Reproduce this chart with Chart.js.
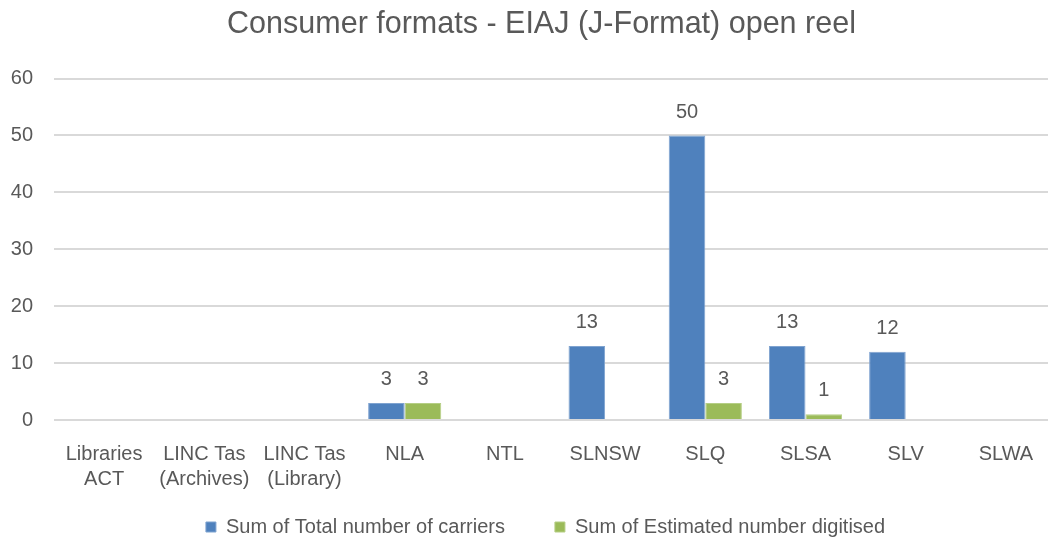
<!DOCTYPE html>
<html>
<head>
<meta charset="utf-8">
<script src="https://cdn.jsdelivr.net/npm/chart.js@4/dist/chart.umd.min.js"></script>
<style>
html,body{margin:0;padding:0;background:#fff;overflow:hidden;}
#wrap{width:1048px;height:541px;position:relative;overflow:hidden;}
canvas{display:block;}
</style>
</head>
<body>
<div id="wrap"><canvas id="c" width="1056" height="541"></canvas></div>
<script>
const categories = [
  ["Libraries","ACT"],
  ["LINC Tas","(Archives)"],
  ["LINC Tas","(Library)"],
  "NLA","NTL","SLNSW","SLQ","SLSA","SLV","SLWA"
];
const totalCarriers = [0,0,0,3,0,13,50,13,12,0];
const estDigitised  = [0,0,0,3,0,0,3,1,0,0];
const seriesNames = ["Sum of Total number of carriers","Sum of Estimated number digitised"];
const titleText = "Consumer formats - EIAJ (J-Format) open reel";

const FONT = "'Liberation Sans Narrow','Arial Narrow','Liberation Sans',Arial,sans-serif";
const TXT = "#595959";

const valueLabels = {
  id: 'valueLabels',
  afterDatasetsDraw(chart) {
    const ctx = chart.ctx;
    ctx.save();
    ctx.font = "20px " + FONT;
    ctx.fillStyle = TXT;
    ctx.textAlign = "center";
    ctx.textBaseline = "alphabetic";
    chart.data.datasets.forEach((ds, di) => {
      const meta = chart.getDatasetMeta(di);
      meta.data.forEach((bar, i) => {
        const v = ds.data[i];
        if (!v) return;
        ctx.fillText(String(v), bar.x, bar.y - 18);
      });
    });
    ctx.restore();
  }
};

const shiftBoxes = {
  id: 'shiftBoxes',
  afterLayout(chart) {
    const t = chart.titleBlock;
    if (t) { t.left += 8; t.right += 8; }
    const l = chart.legend;
    if (l) { l.left += 12; l.right += 12; l.top -= 23; l.bottom -= 23; }
  }
};

new Chart(document.getElementById('c'), {
  type: 'bar',
  data: {
    labels: categories,
    datasets: [
      { label: seriesNames[0], data: totalCarriers, backgroundColor: '#4F81BD', borderColor: '#7FA3D0', borderWidth: 1,
        categoryPercentage: 0.73, barPercentage: 1.0 },
      { label: seriesNames[1], data: estDigitised, backgroundColor: '#9BBB59', borderColor: '#B5CE85', borderWidth: 1,
        categoryPercentage: 0.73, barPercentage: 1.0 }
    ]
  },
  options: {
    responsive: false,
    animation: false,
    layout: { padding: { left: 11, right: 0, top: 4, bottom: -29 } },
    plugins: {
      title: { display: true, text: titleText, color: TXT,
        font: { family: FONT, size: 30.5, weight: 'normal' }, padding: { top: 2, bottom: 36 } },
      legend: { position: 'bottom',
        labels: { color: TXT, font: { family: FONT, size: 20 }, boxWidth: 10, boxHeight: 10, padding: 50 } },
      tooltip: { enabled: false }
    },
    scales: {
      x: {
        grid: { display: false },
        border: { display: false },
        ticks: { color: TXT, font: { family: FONT, size: 20, lineHeight: 1.25 }, maxRotation: 0, autoSkip: false, padding: 14 },
        afterFit(scale) { scale.height = 70; }
      },
      y: {
        min: 0, max: 60,
        ticks: { stepSize: 10, color: TXT, font: { family: FONT, size: 20 }, padding: 21 },
        grid: { color: '#D9D9D9', lineWidth: 2, drawTicks: false },
        border: { display: false },
        afterFit(scale) { scale.width = 43; }
      }
    }
  },
  plugins: [valueLabels, shiftBoxes]
});
</script>
</body>
</html>
